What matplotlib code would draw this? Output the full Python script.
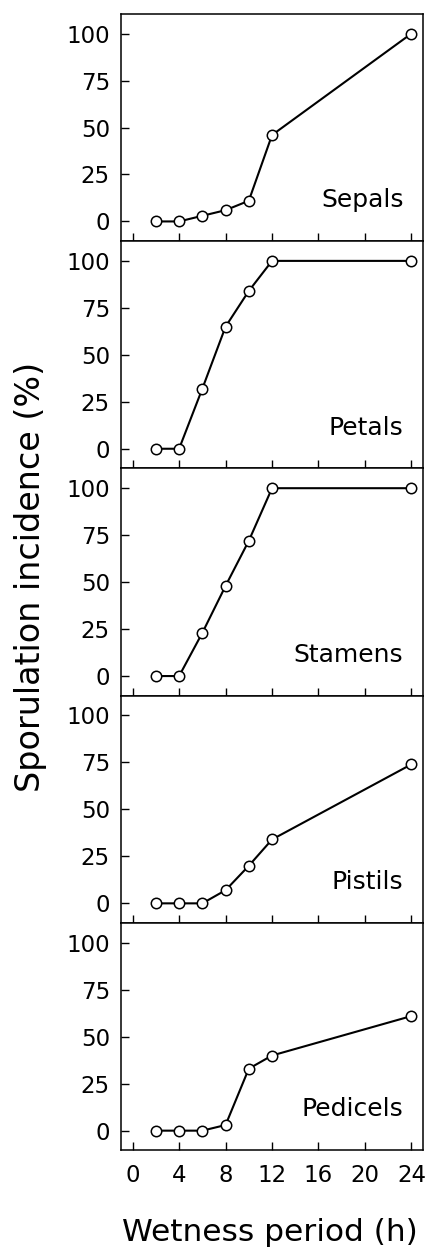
import matplotlib
matplotlib.use("Agg")
import matplotlib.pyplot as plt

plt.rcParams['font.family'] = ['DejaVu Sans']

# wetness period (h)
hours = [2, 4, 6, 8, 10, 12, 24]

# sporulation incidence (%) per flower part
sepals = [0, 0, 3, 6, 11, 46, 100]
petals = [0, 0, 32, 65, 84, 100, 100]
stamens = [0, 0, 23, 48, 72, 100, 100]
pistils = [0, 0, 0, 7, 20, 34, 74]
pedicels = [0, 0, 0, 3, 33, 40, 61]

parts = ['Sepals', 'Petals', 'Stamens', 'Pistils', 'Pedicels']
series = [sepals, petals, stamens, pistils, pedicels]

x_ticks = [0, 4, 8, 12, 16, 20, 24]
y_ticks = [0, 25, 50, 75, 100]

fig, axes = plt.subplots(5, 1, figsize=(4.37, 12.6), dpi=100, sharex=True)
fig.subplots_adjust(left=0.277, right=0.968, top=0.989, bottom=0.087, hspace=0)

for ax, name, vals in zip(axes, parts, series):
    ax.plot(hours, vals, color='black', linewidth=1.5, marker='o', markersize=7.5,
            markerfacecolor='white', markeredgecolor='black', markeredgewidth=1.1, zorder=3)
    ax.set_xlim(-1, 25)
    ax.set_ylim(-10.5, 110.5)
    ax.set_yticks(y_ticks)
    ax.set_xticks(x_ticks)
    ax.tick_params(direction='in', length=6, width=1, labelsize=16.5)
    ax.tick_params(axis='y', pad=8)
    for sp in ax.spines.values():
        sp.set_linewidth(1.1)
    ax.text(0.935, 0.18, name, transform=ax.transAxes, ha='right', va='center', fontsize=18)

axes[-1].tick_params(axis='x', pad=10)
fig.text(0.07, 0.542, 'Sporulation incidence (%)', rotation=90, ha='center', va='center', fontsize=24)
fig.text(0.618, 0.022, 'Wetness period (h)', ha='center', va='center', fontsize=22.5)

fig.savefig('out.png', dpi=100)
